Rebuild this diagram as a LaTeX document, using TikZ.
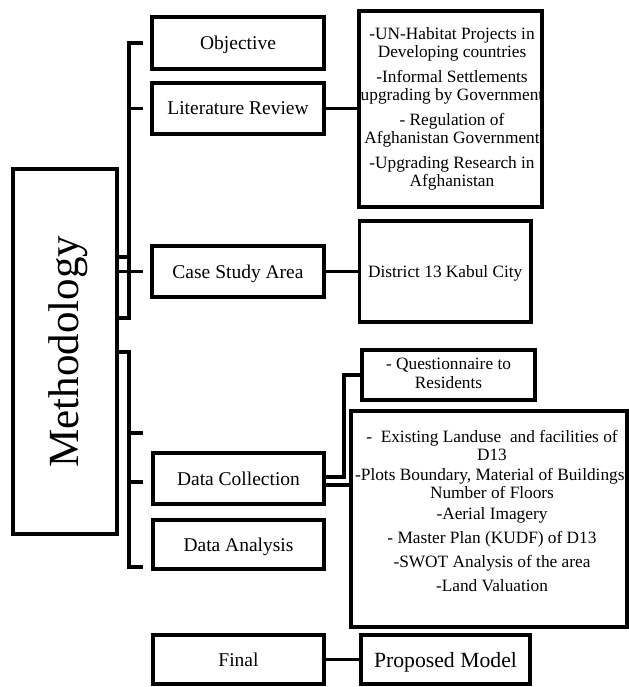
\documentclass[tikz,border=0pt]{standalone}
\usepackage{fontspec}
\setmainfont{Liberation Serif}
\begin{document}
\begin{tikzpicture}[x=1bp,y=-1bp,line width=3.3bp,line join=miter,
  box/.style={draw,rectangle,inner sep=0pt,line width=3.3bp},
  mainlbl/.style={font=\fontsize{19.5bp}{22bp}\selectfont,text height=13bp,text depth=0bp},
  listtxt/.style={font=\fontsize{17.3bp}{18bp}\selectfont,align=center,inner sep=0pt},
  conn/.style={draw,line width=3.3bp}]
\useasboundingbox (0,0) rectangle (629,687);

% left main box
\node[box,minimum width=104bp,minimum height=365bp] (meth) at (65,351.5) {};
\node[rotate=90,anchor=base,inner sep=0pt,font=\fontsize{43bp}{48bp}\selectfont] (methT) at (78,351.5) {Methodology};

% middle boxes
\node[box,mainlbl,minimum width=172bp,minimum height=52bp] (obj) at (238,43) {Objective};
\node[box,mainlbl,minimum width=172bp,minimum height=51bp] (lit) at (238,108.5) {Literature Review};
\node[box,mainlbl,minimum width=172bp,minimum height=51bp] (case) at (238,271.5) {Case Study Area};
\node[box,mainlbl,minimum width=171bp,minimum height=51bp] (dc) at (238.5,478.5) {Data Collection};
\node[box,mainlbl,minimum width=171bp,minimum height=49bp] (da) at (238.5,544.5) {Data Analysis};
\node[box,mainlbl,minimum width=171bp,minimum height=49bp] (fin) at (238.5,659.5) {Final};

% right boxes
\node[box,minimum width=183bp,minimum height=196bp] (litlist) at (450.5,109) {};
\node[listtxt] (littext) at (452,108.5) {-UN-Habitat Projects in\\Developing countries\\[7bp]-Informal Settlements\\upgrading by Government\\[7bp]- Regulation of\\Afghanistan Government\\[7bp]-Upgrading Research in\\Afghanistan};

\node[box,minimum width=171.5bp,minimum height=101bp,font=\fontsize{17.3bp}{18bp}\selectfont,text height=11bp,text depth=0bp] (dist) at (445.25,271.5) {District 13 Kabul City};

\node[box,minimum width=173bp,minimum height=50bp] (quest) at (448.5,375) {};
\node[listtxt] (qtext) at (448.5,373.6) {- Questionnaire to\\[1bp]Residents};

\node[box,minimum width=276bp,minimum height=216bp] (bigbox) at (489,519) {};
\node[listtxt] (bigtext) at (492,510.6) {-\ \ Existing Landuse\ \ and facilities of\\D13\\[2bp]-Plots Boundary, Material of Buildings,\\Number of Floors\\[3bp]-Aerial Imagery\\[6bp]- Master Plan (KUDF) of D13\\[6bp]-SWOT Analysis of the area\\[6bp]-Land Valuation};

\node[box,minimum width=169bp,minimum height=49bp,font=\fontsize{21.7bp}{24bp}\selectfont,text height=15bp,text depth=0bp] (prop) at (445.5,659.5) {Proposed Model};

% helper coordinates for the brackets
\coordinate (spine) at (129,0);
\coordinate (tick) at (143,0);
\coordinate (j1) at (129,318);
\coordinate (j2) at (129,257);
\coordinate (j3) at (129,352);
\coordinate (j4) at (129,567);
\coordinate (j5) at (129,433);
\coordinate (j6) at (129,482);
\coordinate (dcup) at (344,477);
\coordinate (dclow) at (344,485);

% bracket 1
\draw[conn] (tick |- obj.west) -| (spine |- j1) -- (meth.east |- j1);
\draw[conn] (tick |- lit.west) -- (spine |- lit.west);
\draw[conn] (meth.east |- j2) -- (spine |- j2);
\draw[conn] (meth.east |- case.west) -- (tick |- case.west);

% bracket 2
\draw[conn] (meth.east |- j3) -| (spine |- j4) -- (tick |- j4);
\draw[conn] (spine |- j5) -- (tick |- j5);
\draw[conn] (spine |- j6) -- (tick |- j6);

% right connectors
\draw[conn] (lit.east) -- (lit.east -| litlist.west);
\draw[conn] (case.east) -- (case.east -| dist.west);
\draw[conn] (fin.east) -- (fin.east -| prop.west);
\draw[conn] (dc.east |- dcup) -- (dcup) |- (quest.west);
\draw[conn] (dc.east |- dclow) -- (bigbox.west |- dclow);
\end{tikzpicture}
\end{document}
